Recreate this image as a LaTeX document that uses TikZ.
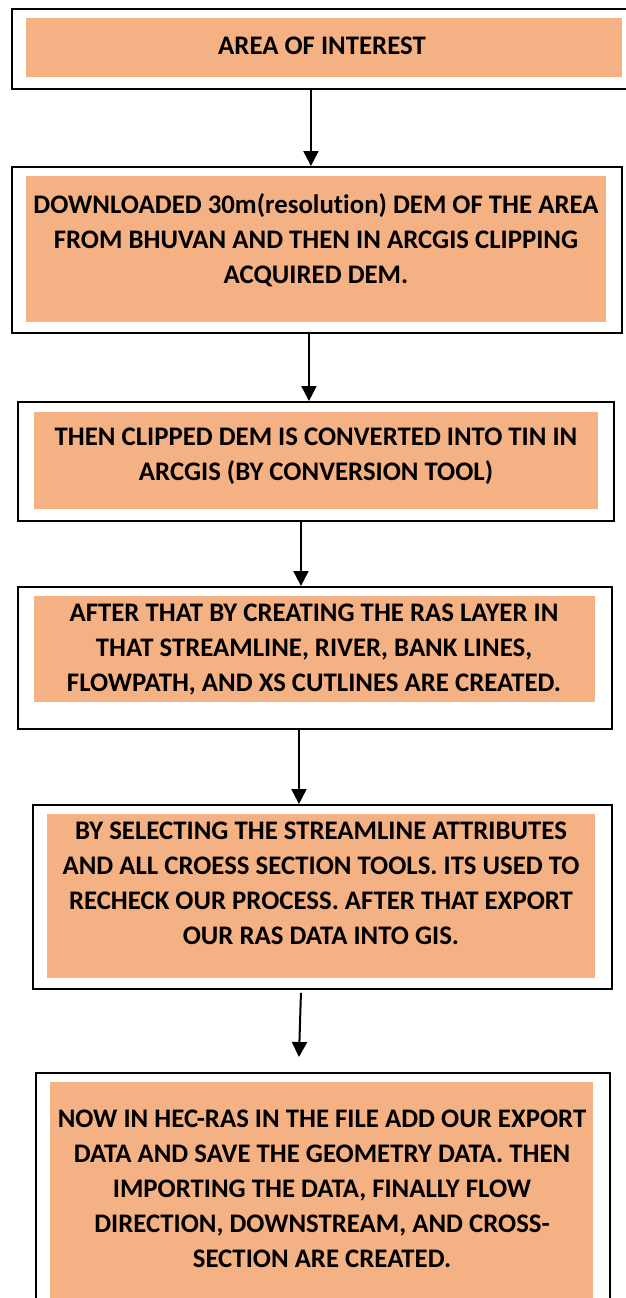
\documentclass[tikz,border=0pt]{standalone}
\usepackage{fontspec}
\setmainfont{Carlito}[Ligatures=NoCommon]
\usetikzlibrary{arrows.meta}
\definecolor{boxfill}{HTML}{F4B183}
\begin{document}
\begin{tikzpicture}[x=1pt,y=-1pt,
  frame/.style={draw=black, line width=1.9pt, fill=white, inner sep=0pt, anchor=north west},
  shade/.style={fill=boxfill, draw=none, inner sep=0pt, anchor=north west},
  label/.style={anchor=base, align=center, inner sep=0pt,
    font={\fontsize{26.8}{35}\selectfont\bfseries}},
  flow/.style={draw=black, line width=2pt, -{Triangle[length=15pt,width=15pt]}}]
\useasboundingbox (0,0) rectangle (626,1298);

% step 1
\node[frame, minimum width=625pt, minimum height=80pt] (o1) at (11,8) {};
\node[shade, minimum width=596pt, minimum height=59pt] (f1) at (26,18) {};
\node[label] (t1) at (322,54.5) {AREA OF INTEREST};

% step 2
\node[frame, minimum width=610pt, minimum height=166pt] (o2) at (11,166) {};
\node[shade, minimum width=580pt, minimum height=146pt] (f2) at (26,176) {};
\node[label] (t2) at (316,283.5) {DOWNLOADED 30m(resolution) DEM OF THE AREA\\FROM BHUVAN AND THEN IN ARCGIS CLIPPING\\ACQUIRED DEM.};

% step 3
\node[frame, minimum width=596pt, minimum height=119pt] (o3) at (17,401) {};
\node[shade, minimum width=564pt, minimum height=97pt] (f3) at (34,412) {};
\node[label] (t3) at (316,480.5) {THEN CLIPPED DEM IS CONVERTED INTO TIN IN\\ARCGIS (BY CONVERSION TOOL)};

% step 4
\node[frame, minimum width=594pt, minimum height=142pt] (o4) at (17,586) {};
\node[shade, minimum width=561pt, minimum height=106pt] (f4) at (34,596) {};
\node[label] (t4) at (314,691.5) {AFTER THAT BY CREATING THE RAS LAYER IN\\THAT STREAMLINE, RIVER, BANK LINES,\\FLOWPATH, AND XS CUTLINES ARE CREATED.};

% step 5
\node[frame, minimum width=579pt, minimum height=184pt] (o5) at (32,804) {};
\node[shade, minimum width=548pt, minimum height=164pt] (f5) at (47,814) {};
\node[label] (t5) at (321,944.5) {BY SELECTING THE STREAMLINE ATTRIBUTES\\AND ALL CROESS SECTION TOOLS. ITS USED TO\\RECHECK OUR PROCESS. AFTER THAT EXPORT\\OUR RAS DATA INTO GIS.};

% step 6
\node[frame, minimum width=574pt, minimum height=240pt] (o6) at (35,1072) {};
\node[shade, minimum width=543pt, minimum height=230pt] (f6) at (50,1082) {};
\node[label] (t6) at (322,1267.5) {NOW IN HEC-RAS IN THE FILE ADD OUR EXPORT\\DATA AND SAVE THE GEOMETRY DATA. THEN\\IMPORTING THE DATA, FINALLY FLOW\\DIRECTION, DOWNSTREAM, AND CROSS-\\SECTION ARE CREATED.};

% connectors
\draw[flow] ([xshift=-13.5pt]o1.south) -- ([xshift=-6pt]o2.north);
\draw[flow] ([xshift=-8pt]o2.south) -- ([xshift=-7pt]o3.north);
\draw[flow] ([xshift=-15pt]o3.south) -- ([xshift=-14pt]o4.north);
\draw[flow] ([xshift=-16pt]o4.south) -- ([xshift=-23.5pt]o5.north);
\coordinate (c5) at ([xshift=-21.5pt,yshift=-3pt]o5.south);
\coordinate (c6) at ([xshift=-24pt,yshift=15pt]o6.north);
\draw[flow] (c5) -- (c6);
\end{tikzpicture}
\end{document}
